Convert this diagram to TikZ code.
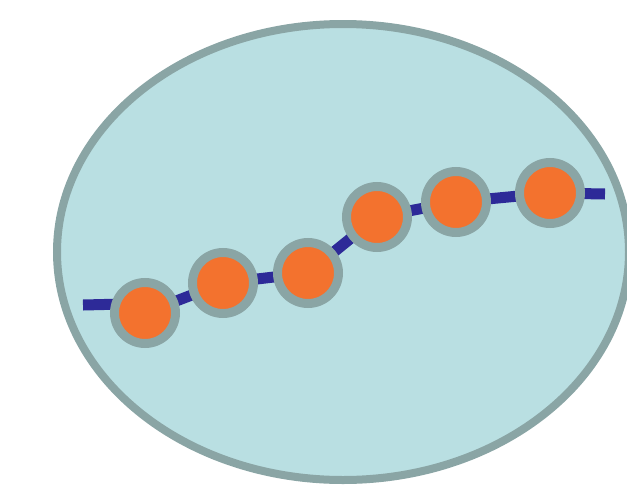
\documentclass[tikz,border=0pt]{standalone}
\usepackage{xcolor}
\usetikzlibrary{backgrounds}

\definecolor{cellfill}{HTML}{B9DFE2}
\definecolor{ringgray}{HTML}{8AA5A5}
\definecolor{beadorange}{HTML}{F3722E}
\definecolor{chainblue}{HTML}{2D2A98}

\begin{document}
\begin{tikzpicture}[x=1pt, y=-1pt,
  bead/.style={circle, draw=ringgray, fill=beadorange, line width=9pt,
               minimum size=61pt, inner sep=0pt},
  chain/.style={draw=chainblue, line width=11pt}]
  \useasboundingbox (0,0) rectangle (627,501);
  \node[bead] (b1) at (145,313) {};
  \node[bead] (b2) at (223,283) {};
  \node[bead] (b3) at (308,273) {};
  \node[bead] (b4) at (377,217) {};
  \node[bead] (b5) at (456,202) {};
  \node[bead] (b6) at (550,193) {};
  \coordinate (start) at (83,305);
  \coordinate (lead) at (125,304);
  \coordinate (stop) at (605,194);
  \begin{scope}[on background layer]
    \draw[draw=ringgray, fill=cellfill, line width=8pt] (343,252) ellipse [x radius=286, y radius=228];
    \draw[chain] (start) -- (lead) -- (b1.center) -- (b2.center) -- (b3.center) -- (b4.center)
      -- (b5.center) -- (b6.center) -- (stop);
  \end{scope}
\end{tikzpicture}
\end{document}
